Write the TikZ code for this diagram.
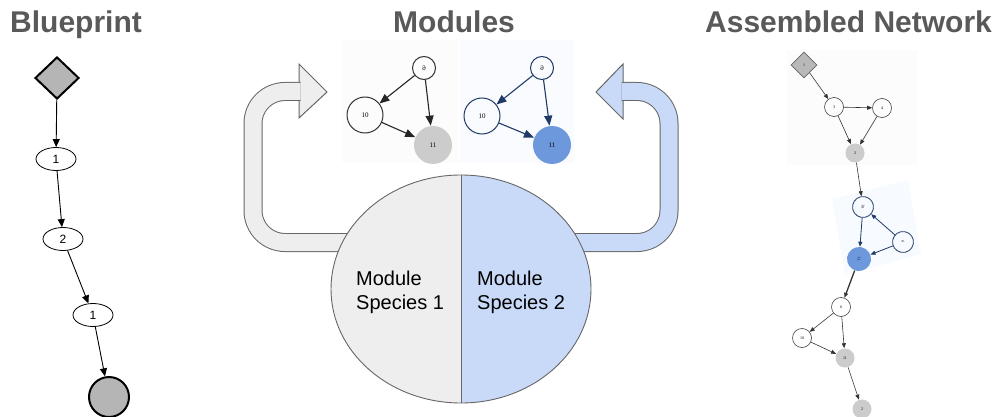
\documentclass[tikz,border=0pt]{standalone}
\usepackage{fontspec}
\setmainfont{Liberation Sans}
\newfontfamily\labelfont{Liberation Serif}
\usetikzlibrary{arrows.meta,shapes.geometric}
\definecolor{titlegray}{HTML}{595959}
\definecolor{edgegray}{HTML}{666666}
\definecolor{bpgray}{HTML}{B5B5B5}
\definecolor{lightgray}{HTML}{CCCCCC}
\definecolor{speciesone}{HTML}{EEEEEE}
\definecolor{speciestwo}{HTML}{C9DAF8}
\definecolor{modblue}{HTML}{6E98DC}
\definecolor{navy}{HTML}{1F3A68}
\begin{document}
\begin{tikzpicture}[x=1pt,y=-1pt,
    title/.style={inner sep=0pt,anchor=base west,text=titlegray,font=\fontsize{30}{36}\selectfont\bfseries},
    bpstate/.style={ellipse,draw,line width=0.8pt,minimum width=40pt,minimum height=23pt,inner sep=0pt,font=\fontsize{12}{14}\selectfont},
    bparrow/.style={-{Triangle[length=8pt,width=7pt]},line width=0.9pt},
    modnode/.style={circle,draw=black!80,line width=1pt,inner sep=0pt,font=\labelfont\fontsize{7}{8}\selectfont},
    modarrow/.style={-{Triangle[length=10pt,width=8pt]},line width=1.1pt,black!85},
    band/.style={double distance=17pt,line width=1pt,draw=edgegray,rounded corners=32pt},
    netw/.style={circle,draw=black!75,line width=0.6pt,inner sep=0pt,minimum size=19pt,font=\labelfont\fontsize{4}{5}\selectfont},
    netg/.style={netw,draw=none,fill=lightgray},
    netb/.style={netw,draw=navy,line width=0.8pt,minimum size=21pt,rotate=-100},
    netarrow/.style={-{Triangle[length=5pt,width=4pt]},line width=0.6pt,black!80}]
  \useasboundingbox (0,0) rectangle (1006,417);

  % titles
  \node[title] (tblue) at (10,33) {Blueprint};
  \node[title] (tmod) at (393,33) {Modules};
  \node[title] (tnet) at (705,33) {Assembled Network};

  % blueprint
  \node[diamond,draw,line width=2pt,fill=bpgray,minimum width=44pt,minimum height=42pt,inner sep=0pt] (bpstart) at (57,78) {};
  \node[bpstate] (bp1) at (56,159) {1};
  \node[bpstate] (bp2) at (63,239) {2};
  \node[bpstate] (bp3) at (93,315) {1};
  \node[circle,draw,line width=2pt,fill=bpgray,minimum size=40pt,inner sep=0pt] (bpend) at (109,397) {};
  \foreach \a/\b in {bpstart/bp1,bp1/bp2,bp2/bp3,bp3/bpend}
    \draw[bparrow] (\a) -- (\b);

  % modules
  \fill[black!1] (342,40) rectangle (458,163);
  \fill[speciestwo!12] (460,40) rectangle (574,163);
  \node[modnode,minimum size=23pt] (ma6) at (424,68) {\reflectbox{6}};
  \node[modnode,minimum size=36pt] (ma10) at (365,115) {10};
  \node[modnode,draw=none,fill=lightgray,minimum size=38pt] (ma11) at (433,145) {11};
  \node[modnode,draw=navy,minimum size=23pt] (mb6) at (542,68) {\reflectbox{6}};
  \node[modnode,draw=navy,minimum size=36pt] (mb10) at (482,116) {10};
  \node[modnode,draw=none,fill=modblue,minimum size=38pt] (mb11) at (552,145) {11};
  \foreach \a/\b in {6/10,6/11,10/11} {
    \draw[modarrow] (ma\a) -- (ma\b);
    \draw[modarrow,navy] (mb\a) -- (mb\b);
  }

  % recycling arrows
  \filldraw[fill=speciesone,draw=edgegray,line width=1pt] (299,64) -- (327,92) -- (299,118) -- cycle;
  \draw[band,double=speciesone] (370,242.5) -- (253,242.5) -- (253,91.5) -- (300.5,91.5);
  \filldraw[fill=speciestwo,draw=edgegray,line width=1pt] (623,64) -- (596,92) -- (623,119) -- cycle;
  \draw[band,double=speciestwo] (552,242.5) -- (669,242.5) -- (669,91.5) -- (621.5,91.5);

  % module pool
  \node[ellipse,draw=edgegray,line width=0.9pt,fill=speciesone,minimum width=260pt,minimum height=228pt,
    path picture={\fill[speciestwo] (path picture bounding box.north) rectangle (path picture bounding box.south east);}]
    (pool) at (461,289) {};
  \draw[edgegray,line width=0.9pt] (pool.north) -- (pool.south);
  \node[anchor=west,align=left,inner sep=0pt,font=\fontsize{20}{24}\selectfont] (sp1) at (356,292) {Module\\Species 1};
  \node[anchor=west,align=left,inner sep=0pt,font=\fontsize{20}{24}\selectfont] (sp2) at (477,292) {Module\\Species 2};

  % assembled network
  \fill[black!1] (787,50) rectangle (917,165);
  \fill[speciestwo!14] (832,199) -- (908,180) -- (921,254) -- (845,275) -- cycle;
  \node[diamond,draw=edgegray,line width=0.6pt,fill=lightgray!90!black,minimum size=26pt,inner sep=0pt,
    font=\labelfont\fontsize{4}{5}\selectfont] (n1) at (804,65) {1};
  \foreach \n/\x/\y/\s/\l in {n3/834/107/netw/3, n4/882/108/netw/4, n2/855/153/netg/2,
      b10/863/207/netb/10, b6/903/242/netb/6, c6/841/307/netw/6, c10/802/338/netw/10,
      c11/845/358/netg/11, c2/862/409/netg/2}
    \node[\s] (\n) at (\x,\y) {\l};
  \node[netw,draw=none,fill=modblue,minimum size=24pt,rotate=-100] (b11) at (859,259) {11};
  \foreach \a/\b in {n1/n3,n3/n4,n3/n2,n4/n2,n2/b10,c6/c10,c6/c11,c10/c11,c11/c2}
    \draw[netarrow] (\a) -- (\b);
  \foreach \a/\b in {b6/b10,b6/b11,b10/b11}
    \draw[netarrow,navy,line width=0.8pt] (\a) -- (\b);
  \draw[netarrow,line width=1.3pt] (b11) -- (c6);
\end{tikzpicture}
\end{document}
